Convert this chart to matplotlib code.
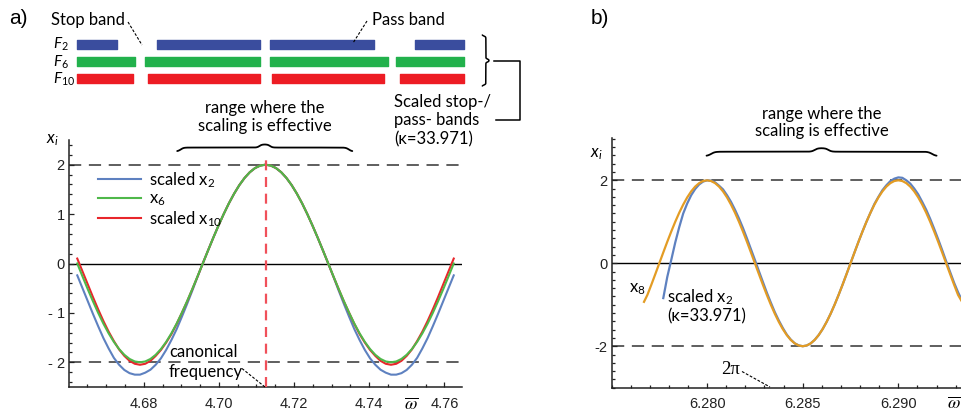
import numpy as np
import matplotlib
matplotlib.use("Agg")
import matplotlib.pyplot as plt
from matplotlib.lines import Line2D
from matplotlib.ticker import MultipleLocator, FixedLocator, FixedFormatter

# ---------------- data ----------------
# panel a: sample positions (omega) and curve values
a_omega = np.linspace(4.6623, 4.7625, 73)
a_x6 = [0.0, -0.261, -0.518, -0.765, -1.0, -1.218, -1.414, -1.587, -1.732, -1.848, -1.932,
        -1.983, -2.0, -1.983, -1.932, -1.848, -1.732, -1.587, -1.414, -1.218, -1.0, -0.765,
        -0.518, -0.261, 0.0,
        0.261, 0.518, 0.765, 1.0, 1.218, 1.414, 1.587, 1.732, 1.848, 1.932, 1.983, 2.0,
        1.983, 1.932, 1.848, 1.732, 1.587, 1.414, 1.218, 1.0, 0.765, 0.518, 0.261,
        0.0, -0.261, -0.518, -0.765, -1.0, -1.218, -1.414, -1.587, -1.732, -1.848, -1.932,
        -1.983, -2.0, -1.983, -1.932, -1.848, -1.732, -1.587, -1.414, -1.218, -1.0, -0.765,
        -0.518, -0.261, 0.0]
a_x2_scaled = [-0.24, -0.50, -0.76, -1.02, -1.27, -1.51, -1.72, -1.91, -2.05, -2.155, -2.22,
               -2.25, -2.25, -2.21, -2.15, -2.05, -1.92, -1.75, -1.55, -1.33, -1.08, -0.82,
               -0.55, -0.27, 0.0,
               0.261, 0.518, 0.765, 1.0, 1.218, 1.414, 1.587, 1.732, 1.848, 1.932, 1.983, 2.0,
               1.983, 1.932, 1.848, 1.732, 1.587, 1.414, 1.218, 1.0, 0.765, 0.518, 0.261,
               0.0, -0.27, -0.55, -0.82, -1.08, -1.33, -1.55, -1.75, -1.92, -2.05, -2.15,
               -2.21, -2.25, -2.25, -2.22, -2.155, -2.05, -1.91, -1.72, -1.51, -1.27, -1.02,
               -0.76, -0.50, -0.24]
a_x10_scaled = [0.10, -0.16, -0.42, -0.68, -0.93, -1.165, -1.38, -1.57, -1.74, -1.87, -1.97,
                -2.03, -2.05, -2.03, -1.97, -1.87, -1.75, -1.60, -1.43, -1.225, -1.0, -0.77,
                -0.52, -0.265, 0.0,
                0.261, 0.518, 0.765, 1.0, 1.218, 1.414, 1.587, 1.732, 1.848, 1.932, 1.983, 2.0,
                1.983, 1.932, 1.848, 1.732, 1.587, 1.414, 1.218, 1.0, 0.765, 0.518, 0.261,
                0.0, -0.265, -0.52, -0.77, -1.0, -1.225, -1.43, -1.60, -1.75, -1.87, -1.97,
                -2.03, -2.05, -2.03, -1.97, -1.87, -1.74, -1.57, -1.38, -1.165, -0.93, -0.68,
                -0.42, -0.16, 0.10]
a_canonical = 4.7124
a_xticks = [4.68, 4.70, 4.72, 4.74, 4.76]
a_xticklabels = ["4.68", "4.70", "4.72", "4.74", "4.76"]
a_yticks = [-2, -1, 0, 1, 2]
a_yticklabels = ["- 2", "- 1", "0", "1", "2"]

# stop/pass band bars (start, end) in omega
bands_F2 = [(4.6623, 4.6730), (4.6835, 4.7110), (4.7137, 4.7412), (4.7522, 4.7651)]
bands_F6 = [(4.6623, 4.6777), (4.6803, 4.7110), (4.7137, 4.7451), (4.7472, 4.7651)]
bands_F10 = [(4.6623, 4.6771), (4.6812, 4.7110), (4.7141, 4.7439), (4.7482, 4.7651)]

# panel b
b_omega_x8 = [6.2767] + list(np.linspace(6.276875, 6.2933333, 80))
b_x8 = [-0.93, -0.765, -0.518, -0.261, 0.0, 0.261, 0.518, 0.765, 1.0, 1.218, 1.414, 1.587,
        1.732, 1.848, 1.932, 1.983, 2.0,
        1.983, 1.932, 1.848, 1.732, 1.587, 1.414, 1.218, 1.0, 0.765, 0.518, 0.261, 0.0,
        -0.261, -0.518, -0.765, -1.0, -1.218, -1.414, -1.587, -1.732, -1.848, -1.932,
        -1.983, -2.0,
        -1.983, -1.932, -1.848, -1.732, -1.587, -1.414, -1.218, -1.0, -0.765, -0.518,
        -0.261, 0.0, 0.261, 0.518, 0.765, 1.0, 1.218, 1.414, 1.587, 1.732, 1.848, 1.932,
        1.983, 2.0,
        1.983, 1.932, 1.848, 1.732, 1.587, 1.414, 1.218, 1.0, 0.765, 0.518, 0.261, 0.0,
        -0.261, -0.518, -0.765, -0.93]
b_omega_x2 = np.linspace(6.2777083, 6.2933333, 76)
b_x2_scaled = [-0.84, -0.33, 0.08, 0.50, 0.87, 1.20, 1.44, 1.64, 1.79, 1.90, 1.97, 2.0,
               1.99, 1.95, 1.87, 1.78, 1.64, 1.48, 1.29, 1.08, 0.85, 0.60, 0.34, 0.08,
               -0.19, -0.45, -0.71, -0.95, -1.18, -1.38, -1.56, -1.72, -1.84, -1.93, -1.98,
               -2.0,
               -1.983, -1.932, -1.848, -1.732, -1.587, -1.414, -1.218, -1.0, -0.765, -0.518,
               -0.261, 0.0, 0.261, 0.518, 0.765, 1.0, 1.218, 1.43, 1.60, 1.76, 1.88, 1.98,
               2.04, 2.07,
               2.06, 2.0, 1.92, 1.80, 1.66, 1.48, 1.29, 1.07, 0.83, 0.58, 0.32, 0.05, -0.21,
               -0.47, -0.70, -0.90]
b_xticks = [6.280, 6.285, 6.290]
b_xticklabels = ["6.280", "6.285", "6.290"]
b_yticks = [-2, 0, 2]
b_yticklabels = ["-2", "0", "2"]

# ---------------- style ----------------
W, H = 962, 415
fig = plt.figure(figsize=(W / 100, H / 100), dpi=100)
TXT = ["Lato", "DejaVu Sans"]
TICKF = "Liberation Sans"
plt.rcParams["mathtext.fontset"] = "custom"
plt.rcParams["mathtext.rm"] = "Lato"
plt.rcParams["mathtext.it"] = "Lato:italic"

C_BLUE = "#5e81c0"
C_GREEN = "#4fb84a"
C_RED = "#e8262b"
C_ORANGE = "#e39c24"
C_AX = "#222222"


def fx(x):
    return x / W


def fy(y):
    return 1 - y / H


def style_axes(ax):
    for s in ["top", "right"]:
        ax.spines[s].set_visible(False)
    for s in ["left", "bottom"]:
        ax.spines[s].set_linewidth(1.1)
        ax.spines[s].set_color(C_AX)
    ax.tick_params(which="both", direction="in", colors=C_AX, width=0.9)
    ax.tick_params(which="major", length=3.4, labelsize=10.5)
    ax.tick_params(which="minor", length=1.9)
    ax.tick_params(axis="x", pad=7)
    ax.tick_params(axis="y", pad=3)
    for lab in ax.get_xticklabels() + ax.get_yticklabels():
        lab.set_fontfamily(TICKF)


def brace_shape(t):
    half = np.where(t < 0.5, t, 1 - t) * 2  # 0..1..0
    k = 60.0
    body = 1 / (1 + np.exp(-k * (half - 0.04)))
    tip = 1 / (1 + np.exp(-k * 1.2 * (half - 0.94)))
    return 0.55 * body + 0.45 * tip


def brace_h(ax, x0, x1, y, h, lw=1.3):
    t = np.linspace(0, 1, 400)
    ax.plot(x0 + (x1 - x0) * t, y + h * brace_shape(t), color="black", lw=lw,
            clip_on=False, solid_capstyle="round")


def brace_v_px(x, y0, y1, w, lw=1.1):
    t = np.linspace(0, 1, 400)
    xs = x + w * brace_shape(t)
    ys = y0 + (y1 - y0) * t
    fig.add_artist(Line2D(fx(xs), fy(ys), color="black", lw=lw, solid_capstyle="round"))


DASH_THIN = dict(color="black", lw=0.8, dashes=(2.5, 1.5))

# ---------------- panel a ----------------
ax1 = fig.add_axes([fx(69), fy(387), fx(462 - 69), (387 - 140) / H])
ax1.set_xlim(4.6601, 4.7647)
ax1.set_ylim(-2.5, 2.5)
ax1.axhline(0, color="black", lw=1.0, zorder=1)
for yv in (2, -2):
    ax1.axhline(yv, color="#333333", lw=1.1, dashes=(8, 5), zorder=1)
ax1.plot([a_canonical, a_canonical], [-2.5, 2.2], color="#f0505a", lw=1.6,
         dashes=(4.5, 3), zorder=4, clip_on=False)
l2, = ax1.plot(a_omega, a_x2_scaled, color=C_BLUE, lw=1.5, zorder=2, label="scaled x$_2$")
l10, = ax1.plot(a_omega, a_x10_scaled, color=C_RED, lw=1.5, zorder=2, label="scaled x$_{10}$")
l6, = ax1.plot(a_omega, a_x6, color=C_GREEN, lw=1.5, zorder=3, label="x$_6$")
ax1.xaxis.set_major_locator(FixedLocator(a_xticks))
ax1.xaxis.set_major_formatter(FixedFormatter(a_xticklabels))
ax1.xaxis.set_minor_locator(MultipleLocator(0.005))
ax1.yaxis.set_major_locator(FixedLocator(a_yticks))
ax1.yaxis.set_major_formatter(FixedFormatter(a_yticklabels))
ax1.yaxis.set_minor_locator(MultipleLocator(0.2))
style_axes(ax1)
ax1.legend(handles=[l2, l6, l10], loc="upper left",
           bbox_to_anchor=(fx(98), fy(170)), bbox_transform=fig.transFigure,
           frameon=False, prop={"family": TXT, "size": 12}, handlelength=2.6,
           handletextpad=0.45, labelspacing=0.05, borderpad=0, borderaxespad=0)

brace_h(ax1, 4.6889, 4.7355, 2.27, 0.14)
fig.text(fx(265), fy(117), "range where the\nscaling is effective", ha="center",
         va="center", family=TXT, size=12, linespacing=1.1)

fig.text(fx(52), fy(139), "$x_i$", ha="center", va="center", size=12)
fig.text(fx(411), fy(404), r"$\overline{\omega}$", ha="center", va="center", size=13,
         math_fontfamily="stix")
fig.text(fx(169), fy(352), "canonical", ha="left", va="center", family=TXT, size=12)
fig.text(fx(169), fy(371.5), "frequency", ha="left", va="center", family=TXT, size=12)
fig.add_artist(Line2D([fx(242), fx(265)], [fy(368.5), fy(387)], **DASH_THIN))
fig.text(fx(18), fy(18), "a)", ha="center", va="center", family="Liberation Sans", size=15)

# bands
axb = fig.add_axes([fx(69), fy(96), fx(462 - 69), 69 / H])
axb.set_xlim(4.6601, 4.7647)
axb.set_ylim(4, 0)
axb.axis("off")
for row, bands, col in [(1, bands_F2, "#3a4d9e"), (2, bands_F6, "#22b14c"),
                        (3, bands_F10, "#ed1c24")]:
    axb.broken_barh([(s, e - s) for s, e in bands], (row - 0.25, 0.5), color=col,
                    clip_on=False)
fig.text(fx(53), fy(44.5), "$F_{2}$", ha="left", va="center", size=11)
fig.text(fx(53), fy(62), "$F_{6}$", ha="left", va="center", size=11)
fig.text(fx(53), fy(79), "$F_{10}$", ha="left", va="center", size=11)
fig.text(fx(51), fy(20), "Stop band", ha="left", va="center", family=TXT, size=12)
fig.add_artist(Line2D([fx(128), fx(142)], [fy(22), fy(45)], **DASH_THIN))
fig.text(fx(372), fy(20), "Pass band", ha="left", va="center", family=TXT, size=12)
fig.add_artist(Line2D([fx(367), fx(353)], [fy(21), fy(43)], **DASH_THIN))
brace_v_px(482, 35, 86, 7)
fig.add_artist(Line2D([fx(494), fx(520), fx(520), fx(496)],
                      [fy(61.5), fy(61.5), fy(120), fy(120)], color="black", lw=1.1))
fig.text(fx(394), fy(102), "Scaled stop-/", ha="left", va="center", family=TXT, size=12)
fig.text(fx(394), fy(120), "pass- bands", ha="left", va="center", family=TXT, size=12)
fig.text(fx(394), fy(139.5), "(κ=33.971)", ha="left", va="center", family=TXT, size=12)

# ---------------- panel b ----------------
ax2 = fig.add_axes([fx(611.5), fy(387.7), fx(962 - 611.5), (387.7 - 138) / H])
ax2.set_xlim(6.2750, 6.29333)
ax2.set_ylim(-3, 3.02)
ax2.axhline(0, color="black", lw=1.0, zorder=1)
for yv in (2, -2):
    ax2.axhline(yv, color="#333333", lw=1.1, dashes=(8, 5), zorder=1)
ax2.plot(b_omega_x2, b_x2_scaled, color=C_BLUE, lw=1.6, zorder=2, clip_on=False)
ax2.plot(b_omega_x8, b_x8, color=C_ORANGE, lw=1.6, zorder=3, clip_on=False)
ax2.xaxis.set_major_locator(FixedLocator(b_xticks))
ax2.xaxis.set_major_formatter(FixedFormatter(b_xticklabels))
ax2.xaxis.set_minor_locator(MultipleLocator(0.001))
ax2.yaxis.set_major_locator(FixedLocator(b_yticks))
ax2.yaxis.set_major_formatter(FixedFormatter(b_yticklabels))
ax2.yaxis.set_minor_locator(MultipleLocator(0.2))
style_axes(ax2)

brace_h(ax2, 6.27997, 6.2920, 2.585, 0.19)
fig.text(fx(822), fy(122.5), "range where the\nscaling is effective", ha="center",
         va="center", family=TXT, size=12, linespacing=1.1)
fig.text(fx(596), fy(153), "$x_i$", ha="center", va="center", size=12)
fig.text(fx(954), fy(403), r"$\overline{\omega}$", ha="center", va="center", size=13,
         math_fontfamily="stix")
fig.text(fx(637), fy(289), "x$_8$", ha="center", va="center", family=TXT, size=12)
fig.text(fx(667), fy(297), "scaled x$_2$", ha="left", va="center", family=TXT, size=12)
fig.text(fx(667), fy(316), "(κ=33.971)", ha="left", va="center", family=TXT, size=12)
fig.text(fx(731), fy(369), "2π", ha="center", va="center", family="Liberation Serif",
         size=13.5)
fig.add_artist(Line2D([fx(742), fx(770)], [fy(371.5), fy(387)], **DASH_THIN))
fig.text(fx(600), fy(18), "b)", ha="center", va="center", family="Liberation Sans", size=15)

fig.savefig("out.png", dpi=100)
